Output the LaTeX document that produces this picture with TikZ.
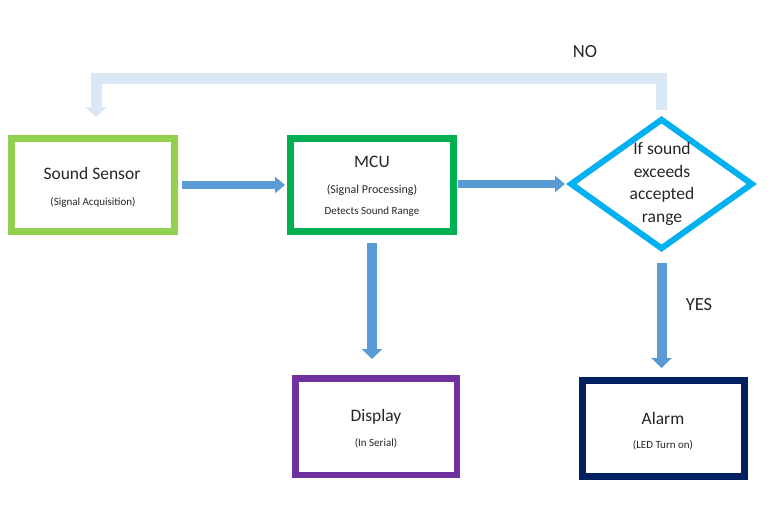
\documentclass[tikz,border=0pt]{standalone}
\usepackage{fontspec}
\setmainfont{Carlito}
\usetikzlibrary{arrows.meta,shapes.geometric}
\definecolor{ssgreen}{HTML}{92D050}
\definecolor{mcugreen}{HTML}{00B050}
\definecolor{decblue}{HTML}{00B0F0}
\definecolor{disppurple}{HTML}{7030A0}
\definecolor{alarmnavy}{HTML}{002060}
\definecolor{arrowblue}{HTML}{5B9BD5}
\definecolor{loopblue}{HTML}{DAE7F5}
\definecolor{txt}{HTML}{262626}
\tikzset{
  boxnode/.style={draw, line width=7pt, inner sep=0pt, minimum width=163pt, minimum height=93pt, fill=white},
  titletext/.style={inner sep=0pt, text=txt, font=\fontsize{17.5}{21}\selectfont},
  subtext/.style={inner sep=0pt, text=txt, font=\fontsize{11}{13}\selectfont},
  labeltext/.style={inner sep=0pt, text=txt, font=\fontsize{18.5}{22}\selectfont},
  harrow/.style={draw=arrowblue, line width=8pt, -{Triangle[length=10pt,width=16pt]}},
  varrow/.style={draw=arrowblue, line width=10pt, -{Triangle[length=10pt,width=20pt]}},
  looparrow/.style={draw=loopblue, line width=11pt, line join=miter, -{Triangle[length=10pt,width=21pt]}}
}
\begin{document}
\begin{tikzpicture}[x=1pt,y=-1pt]
\useasboundingbox (0,0) rectangle (780,522);
\fill[white] (0,0) rectangle (780,522);

% boxes
\node[boxnode, draw=ssgreen] (ss) at (93,185) {};
\node[boxnode, draw=mcugreen] (mcu) at (372,185) {};
\node[boxnode, draw=disppurple, line width=6.5pt, minimum width=161.5pt, minimum height=96.5pt] (disp) at (376,426.5) {};
\node[boxnode, draw=alarmnavy, minimum width=162pt, minimum height=96pt] (alarm) at (663.5,428.5) {};
\node[diamond, draw=decblue, line width=6pt, inner sep=0pt, minimum width=183pt, minimum height=131pt, fill=white] (dec) at (661.5,184) {};

% texts
\node[titletext] (sst) at (92,173) {Sound Sensor};
\node[subtext] (sss) at (93,202) {(Signal Acquisition)};
\node[titletext] (mcut) at (372,162) {MCU};
\node[subtext, font=\fontsize{12}{14}\selectfont] (mcus) at (372,190) {(Signal Processing)};
\node[subtext] (mcud) at (372,212) {Detects Sound Range};
\node[titletext, align=center, font=\fontsize{17.5}{22.7}\selectfont] (dect) at (662,184) {If sound\\exceeds\\accepted\\range};
\node[titletext] (dispt) at (376,417) {Display};
\node[subtext] (disps) at (376,443) {(In Serial)};
\node[titletext] (alarmt) at (663,418) {Alarm};
\node[subtext] (alarms) at (663,445) {(LED Turn on)};
\node[labeltext] (no) at (585,52) {NO};
\node[labeltext] (yes) at (699,305) {YES};

% connectors
\draw[harrow, shorten <=4pt, shorten >=2pt] (ss.east) -- (mcu.west);
\draw[harrow, shorten <=1pt, shorten >=2pt] (mcu.east |- 0,184) -- (dec.west);
\draw[varrow, shorten <=8pt, shorten >=16pt] (mcu.south) -- (mcu.south |- disp.north);
\draw[varrow, shorten <=10pt, shorten >=9pt] (dec.south) -- (dec.south |- alarm.north);

\coordinate (noTop) at (0,78.5);
\coordinate (noEnd) at (96,117);
\draw[looparrow] ([yshift=6pt]dec.north) -- (dec.north |- noTop) -| (noEnd);
\end{tikzpicture}
\end{document}
